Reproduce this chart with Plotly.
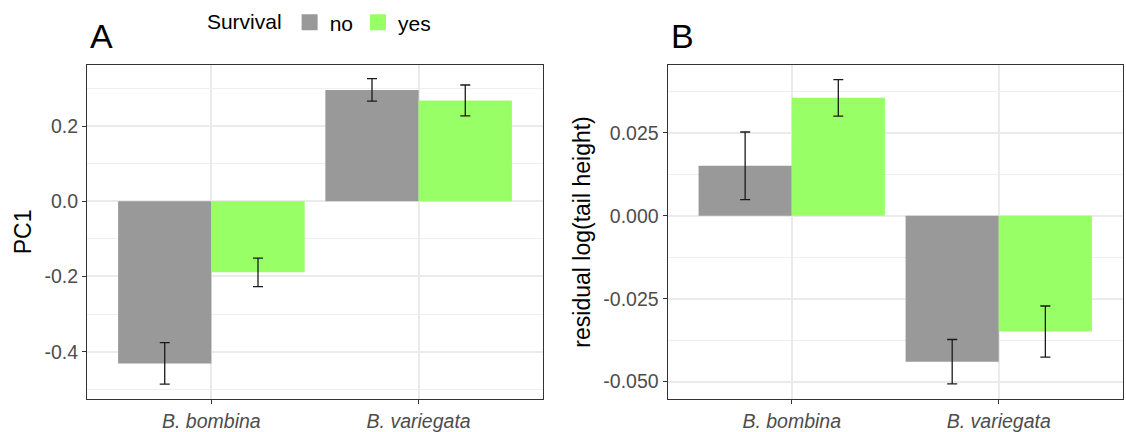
import plotly.graph_objects as go

species = ["B. bombina", "B. variegata"]
survival = ["no", "yes"]

pc1_no = [-0.431, 0.296]
pc1_no_err = [0.055, 0.030]
pc1_yes = [-0.189, 0.268]
pc1_yes_err = [0.038, 0.041]

tail_no = [0.0151, -0.0440]
tail_no_err = [0.0102, 0.0067]
tail_yes = [0.0356, -0.0349]
tail_yes_err = [0.0055, 0.0077]

pc1_ticks = [-0.4, -0.2, 0.0, 0.2]
pc1_ticktext = ["-0.4", "-0.2", "0.0", "0.2"]
pc1_minor = [-0.5, -0.3, -0.1, 0.1, 0.3]
tail_ticks = [-0.050, -0.025, 0.000, 0.025]
tail_ticktext = ["-0.050", "-0.025", "0.000", "0.025"]
tail_minor = [-0.0375, -0.0125, 0.0125, 0.0375]

colors = {"no": "#999999", "yes": "#99FF66"}
FONT = "Liberation Sans, Arial, Helvetica, sans-serif"

fig = go.Figure()

def add_bars(vals, errs, name, xaxis, yaxis):
    fig.add_trace(go.Bar(
        x=species, y=vals, name=name, legendgroup=name, showlegend=False,
        marker=dict(color=colors[name], line=dict(width=0)),
        error_y=dict(type="data", array=errs, visible=True, color="#1a1a1a",
                     thickness=1.3, width=5),
        xaxis=xaxis, yaxis=yaxis,
    ))

add_bars(pc1_no, pc1_no_err, "no", "x", "y")
add_bars(pc1_yes, pc1_yes_err, "yes", "x", "y")
add_bars(tail_no, tail_no_err, "no", "x2", "y2")
add_bars(tail_yes, tail_yes_err, "yes", "x2", "y2")

# legend-only entries (square keys)
for s in survival:
    fig.add_trace(go.Scatter(
        x=[None], y=[None], mode="markers", name=s, legendgroup=s, showlegend=True,
        marker=dict(symbol="square", size=16, color=colors[s]),
        xaxis="x", yaxis="y",
    ))

W, H = 1126, 432
top, bottom = 65, 401
ydom = [1 - bottom / H, 1 - top / H]

common_x = dict(
    type="category", range=[-0.6, 1.6], showgrid=True, gridcolor="#EBEBEB", gridwidth=2,
    showline=True, mirror=True, linecolor="#333333", linewidth=1,
    ticks="outside", ticklen=4, tickcolor="#333333", tickwidth=1,
    tickfont=dict(family=FONT, size=19.5, color="#4D4D4D", style="italic"),
    zeroline=False,
)
common_y = dict(
    showgrid=True, gridcolor="#EBEBEB", gridwidth=2,
    showline=True, mirror=True, linecolor="#333333", linewidth=1,
    ticks="outside", ticklen=4, tickcolor="#333333", tickwidth=1,
    tickfont=dict(family=FONT, size=19.5, color="#4D4D4D"),
    zeroline=False, tickmode="array",
)

fig.update_layout(
    width=W, height=H, margin=dict(l=0, r=0, t=0, b=0),
    plot_bgcolor="white", paper_bgcolor="white",
    barmode="group", bargap=0.1, bargroupgap=0,
    font=dict(family=FONT, color="black"),
    xaxis=dict(domain=[87 / W, 543 / W], anchor="y", **common_x),
    xaxis2=dict(domain=[667.5 / W, 1123 / W], anchor="y2", **common_x),
    yaxis=dict(domain=ydom, anchor="x", range=[-0.526, 0.363],
               tickvals=pc1_ticks, ticktext=pc1_ticktext,
               minor=dict(tickvals=pc1_minor, showgrid=True, gridcolor="#EFEFEF", gridwidth=1, ticks=""),
               title=dict(text="PC1", font=dict(family=FONT, size=23, color="black"), standoff=6),
               **common_y),
    yaxis2=dict(domain=ydom, anchor="x2", range=[-0.0553, 0.0456],
                tickvals=tail_ticks, ticktext=tail_ticktext,
                minor=dict(tickvals=tail_minor, showgrid=True, gridcolor="#EFEFEF", gridwidth=1, ticks=""),
                title=dict(text="residual log(tail height)", font=dict(family=FONT, size=23, color="black"), standoff=6),
                **common_y),
    legend=dict(
        orientation="h", x=0.182, y=0.995, xanchor="left", yanchor="top",
        title=dict(text="Survival", side="left", font=dict(family=FONT, size=21, color="black")),
        font=dict(family=FONT, size=21, color="black"),
        bgcolor="rgba(0,0,0,0)", traceorder="normal", itemwidth=30, itemsizing="trace",
    ),
    annotations=[
        dict(text="A", x=88 / W, y=1 - 36 / H, xref="paper", yref="paper",
             xanchor="left", yanchor="middle", showarrow=False,
             font=dict(family=FONT, size=34, color="black")),
        dict(text="B", x=668.5 / W, y=1 - 36 / H, xref="paper", yref="paper",
             xanchor="left", yanchor="middle", showarrow=False,
             font=dict(family=FONT, size=34, color="black")),
    ],
)

fig.write_html("out.html")
